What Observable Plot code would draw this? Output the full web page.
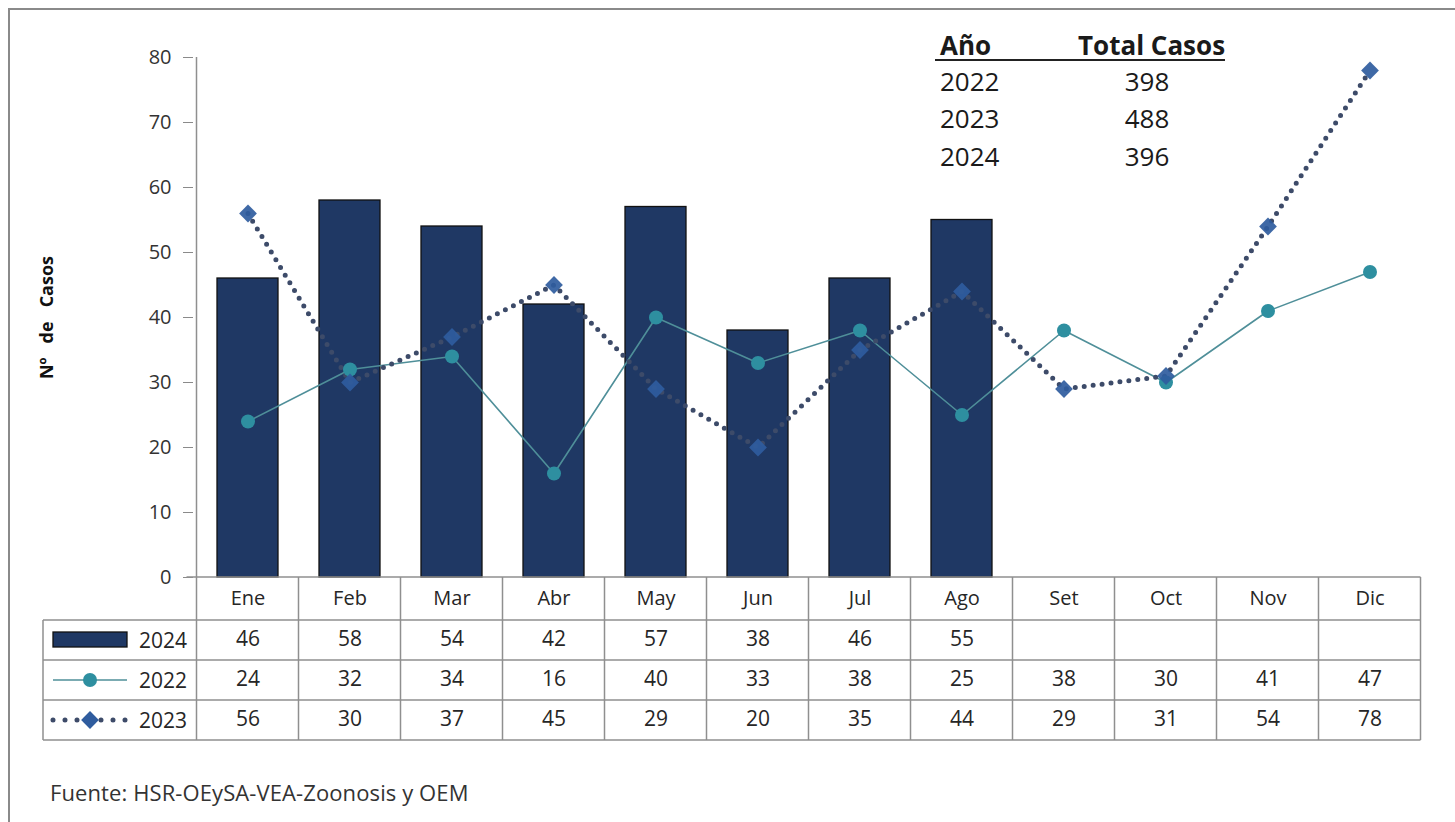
<!DOCTYPE html>
<html>
<head>
<meta charset="utf-8">
<script src="https://cdn.jsdelivr.net/npm/d3@7"></script>
<script src="https://cdn.jsdelivr.net/npm/@observablehq/plot@0.6"></script>
<style>
  html, body { margin: 0; padding: 0; background: #fff; }
  #wrap { position: relative; width: 1455px; height: 822px; overflow: hidden; font-family: "Open Sans", sans-serif; color: #262626; }
  #wrap svg text.pre { white-space: pre; }
  .bt { position: absolute; left: 8px; top: 8px; width: 1447px; height: 2px; background: #8a8a8a; }
  .bl { position: absolute; left: 8px; top: 8px; width: 2px; height: 814px; background: #8a8a8a; }
  .inset div { position: absolute; font-size: 26px; line-height: 30px; white-space: nowrap; color: #1a1a1a; }
  .caption { position: absolute; left: 50px; top: 778px; font-size: 22px; line-height: 28px; color: #333; letter-spacing: 0.1px; }
</style>
</head>
<body>
<div id="wrap">
  <div class="bt"></div>
  <div class="bl"></div>
</div>
<script>
const months = ["Ene","Feb","Mar","Abr","May","Jun","Jul","Ago","Set","Oct","Nov","Dic"];
const cases2024 = [46,58,54,42,57,38,46,55,null,null,null,null];
const cases2022 = [24,32,34,16,40,33,38,25,38,30,41,47];
const cases2023 = [56,30,37,45,29,20,35,44,29,31,54,78];
const yTicks = [0,10,20,30,40,50,60,70,80];
const seriesNames = ["2024","2022","2023"];
const totalYears = ["2022","2023","2024"];
const totalCases = [398,488,396];
const yLabel = "Nº   de   Casos";
const captionText = "Fuente: HSR-OEySA-VEA-Zoonosis y OEM";

const C_BAR = "#1F3864", C_22 = "#2E8FA0", C_22L = "#4F8F99", C_23 = "#2F5C9E", C_23L = "#3D4B69";

const d24 = months.map((m,i)=>({month:m, value:cases2024[i]})).filter(d=>d.value!=null);
const d22 = months.map((m,i)=>({month:m, value:cases2022[i]}));
const d23 = months.map((m,i)=>({month:m, value:cases2023[i]}));

const W = 1455, H = 822;
const cell = {frameAnchor: "bottom", lineAnchor: "middle", fontSize: 21, fill: "#262626"};
const chart = Plot.plot({
  width: W, height: H,
  marginLeft: 193, marginRight: 31, marginTop: 57, marginBottom: 245,
  style: {fontFamily: "'Open Sans', sans-serif", fontSize: "20px", background: "transparent", color: "#333", overflow: "visible"},
  x: {domain: months, axis: null, paddingInner: 0.4, paddingOuter: 0.2},
  y: {domain: [0, 80]},
  marks: [
    Plot.axisY({ticks: yTicks, tickSize: 10, tickPadding: 12, fontSize: 20, label: null, stroke: "#8a8a8a", fill: "#333"}),
    Plot.barY(d24, {x: "month", y: "value", fill: C_BAR, stroke: "#111", strokeWidth: 1.3}),
    Plot.line(d22, {x: "month", y: "value", stroke: C_22L, strokeWidth: 1.6}),
    Plot.line(d23, {x: "month", y: "value", stroke: C_23L, strokeWidth: 5, strokeDasharray: "0 9", strokeLinecap: "round"}),
    Plot.dot(d22, {x: "month", y: "value", r: 7, fill: C_22, stroke: null}),
    Plot.dot(d23, {x: "month", y: "value", symbol: "diamond2", r: 8, fill: C_23, fillOpacity: 0.92, stroke: null}),
    // data table text
    Plot.text(months, {...cell, x: d => d, text: d => d, dy: 21, fontSize: 20}),
    Plot.text(d24, {...cell, x: "month", text: d => String(d.value), dy: 62}),
    Plot.text(d22, {...cell, x: "month", text: d => String(d.value), dy: 102}),
    Plot.text(d23, {...cell, x: "month", text: d => String(d.value), dy: 142}),
    Plot.text([yLabel], {frameAnchor: "left", textAnchor: "middle", dx: -146, rotate: -90, fontWeight: "bold", fontSize: 18, fill: "#111", className: "pre"})
  ]
});
chart.style.position = "absolute";
chart.style.left = "0px";
chart.style.top = "0px";
document.getElementById("wrap").appendChild(chart);

// Table grid and legend keys, positioned through the chart's scales
const xs = chart.scale("x"), ys = chart.scale("y");
const step = xs.apply(months[1]) - xs.apply(months[0]);
const bw = xs.bandwidth != null ? xs.bandwidth : step * 0.6;
const centers = months.map(m => xs.apply(m) + bw / 2);
const bounds = centers.map(c => c - step / 2).concat([centers[centers.length-1] + step / 2]);
const y0 = ys.apply(0), yTop = ys.apply(80);
const rowH = [43, 83, 123, 163];
const left = 43, xAxis = bounds[0], right = bounds[bounds.length - 1];
const svg = d3.select(chart);
const g = svg.append("g").attr("stroke", "#8f8f8f").attr("stroke-width", 1.5).attr("fill", "none");
g.append("line").attr("x1", xAxis).attr("x2", xAxis).attr("y1", yTop).attr("y2", y0 + rowH[3]);
g.append("line").attr("x1", xAxis - 10).attr("x2", right).attr("y1", y0).attr("y2", y0);
rowH.forEach(h => g.append("line").attr("x1", left).attr("x2", right).attr("y1", y0 + h).attr("y2", y0 + h));
g.append("line").attr("x1", left).attr("x2", left).attr("y1", y0 + rowH[0]).attr("y2", y0 + rowH[3]);
bounds.slice(1).forEach(b => g.append("line").attr("x1", b).attr("x2", b).attr("y1", y0).attr("y2", y0 + rowH[3]));

// legend keys in the table's first column
const kx1 = 53, kx2 = 127, kxm = 90;
const rowsMid = [y0 + 63, y0 + 103, y0 + 143];
const lg = svg.append("g");
lg.append("rect").attr("x", kx1).attr("y", rowsMid[0] - 8).attr("width", kx2 - kx1).attr("height", 15)
  .attr("fill", C_BAR).attr("stroke", "#111").attr("stroke-width", 1.3);
lg.append("line").attr("x1", kx1).attr("x2", kx2).attr("y1", rowsMid[1]).attr("y2", rowsMid[1]).attr("stroke", C_22L).attr("stroke-width", 1.6);
lg.append("circle").attr("cx", kxm).attr("cy", rowsMid[1]).attr("r", 7).attr("fill", C_22);
lg.append("line").attr("x1", kx1).attr("x2", kx2).attr("y1", rowsMid[2]).attr("y2", rowsMid[2]).attr("stroke", C_23L)
  .attr("stroke-width", 5).attr("stroke-dasharray", "0 12").attr("stroke-linecap", "round");
lg.append("path").attr("d", d3.symbol(d3.symbolDiamond2 || d3.symbolSquare, Math.PI * 8 * 8)()).attr("transform", `translate(${kxm},${rowsMid[2]})`).attr("fill", C_23);
seriesNames.forEach((s, i) => {
  lg.append("text").attr("x", 187).attr("y", rowsMid[i]).attr("dy", "0.36em").attr("text-anchor", "end")
    .attr("font-size", 21).attr("fill", "#262626").text(s);
});

// Inset totals table
const wrap = d3.select("#wrap");
const inset = wrap.append("div").attr("class", "inset");
inset.append("div").style("left", "940px").style("top", "30px").style("font-weight", "bold").text("Año");
inset.append("div").style("left", "1078px").style("top", "30px").style("font-weight", "bold").text("Total Casos");
inset.append("div").style("left", "935px").style("top", "59px").style("width", "290px").style("height", "2px").style("background", "#222");
const rowTops = [66, 103, 141];
totalYears.forEach((yv, i) => {
  inset.append("div").style("left", "940px").style("top", rowTops[i] + "px").text(yv);
  inset.append("div").style("left", "1097px").style("width", "100px").style("text-align", "center").style("top", rowTops[i] + "px").text(String(totalCases[i]));
});
wrap.append("div").attr("class", "caption").text(captionText);
</script>
</body>
</html>
